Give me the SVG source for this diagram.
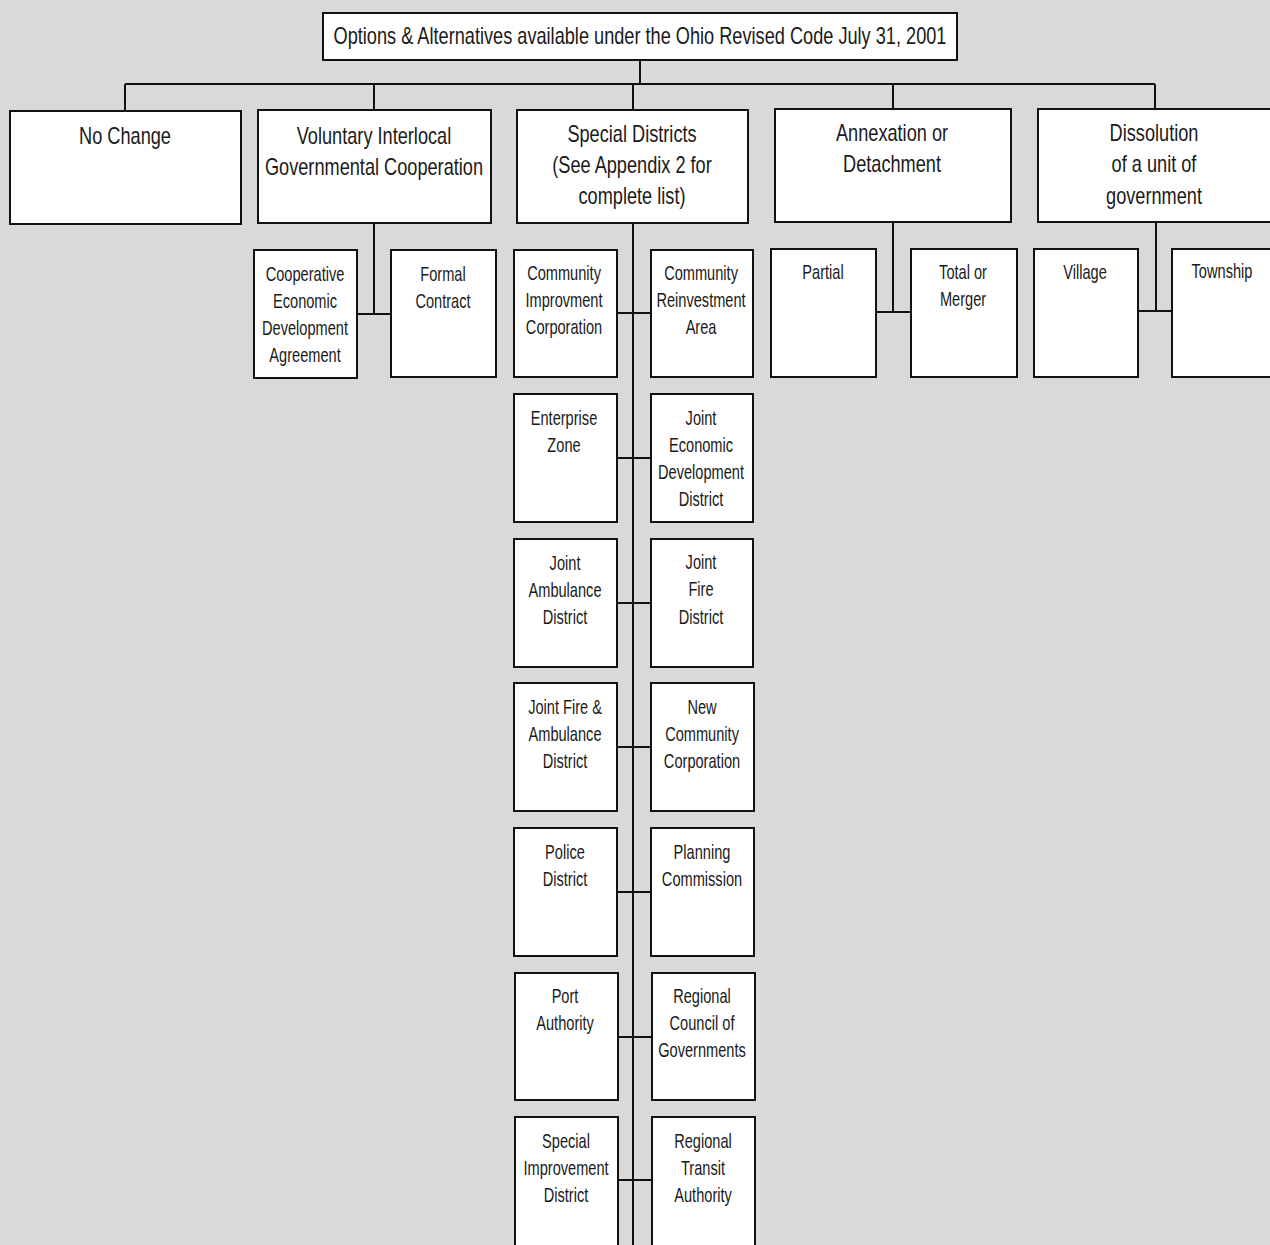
<svg xmlns="http://www.w3.org/2000/svg" width="1270" height="1245" viewBox="0 0 1270 1245">
<style>
.bg{fill:#d9d9d9}
.box{fill:#ffffff;stroke:#111;stroke-width:2}
.ln{stroke:#111;stroke-width:2;fill:none}
text{font-family:"Liberation Sans",Arial,sans-serif;fill:#1a1a1a;text-anchor:middle;transform-box:fill-box;transform-origin:center}
.t1{font-size:23px;transform:scaleX(0.79)}
.t2{font-size:20px;transform:scaleX(0.73)}
</style>
<rect class="bg" x="0" y="0" width="1270" height="1245"/>
<g id="connectors">
<path class="ln" d="M640 60V84M125 84H1155M125 84V111M374 84V110M633 84V110M893 84V109M1155 84V109"/>
<path class="ln" d="M374 223V314M357 314H391"/>
<path class="ln" d="M633 223V1245M617 313H651M617 458H651M617 603H651M617 747H651M617 892H651M617 1037H651M617 1180H652"/>
<path class="ln" d="M893 222V312M876 312H911"/>
<path class="ln" d="M1156 222V311M1138 311H1172"/>
</g>
<g id="root"><rect class="box" x="323" y="13" width="634" height="47"/><text class="t1" x="640" y="44">Options &amp; Alternatives available under the Ohio Revised Code July 31, 2001</text></g>
<g id="no-change"><rect class="box" x="10" y="111" width="231" height="113"/><text class="t1" x="125" y="144">No Change</text></g>
<g id="voluntary"><rect class="box" x="258" y="110" width="233" height="113"/><text class="t1" x="374" y="144">Voluntary Interlocal</text><text class="t1" x="374" y="175">Governmental Cooperation</text></g>
<g id="special"><rect class="box" x="517" y="110" width="231" height="113"/><text class="t1" x="632" y="142">Special Districts</text><text class="t1" x="632" y="173">(See Appendix 2 for</text><text class="t1" x="632" y="204">complete list)</text></g>
<g id="annexation"><rect class="box" x="775" y="109" width="236" height="113"/><text class="t1" x="892" y="141">Annexation or</text><text class="t1" x="892" y="172">Detachment</text></g>
<g id="dissolution"><rect class="box" x="1038" y="109" width="240" height="113"/><text class="t1" x="1154" y="141">Dissolution</text><text class="t1" x="1154" y="172">of a unit of</text><text class="t1" x="1154" y="204">government</text></g>
<g id="cooperative"><rect class="box" x="254" y="250" width="103" height="128"/><text class="t2" x="305" y="281">Cooperative</text><text class="t2" x="305" y="308">Economic</text><text class="t2" x="305" y="335">Development</text><text class="t2" x="305" y="362">Agreement</text></g>
<g id="formal"><rect class="box" x="391" y="250" width="105" height="127"/><text class="t2" x="443" y="281">Formal</text><text class="t2" x="443" y="308">Contract</text></g>
<g id="cic"><rect class="box" x="514" y="250" width="103" height="127"/><text class="t2" x="564" y="280">Community</text><text class="t2" x="564" y="307">Improvment</text><text class="t2" x="564" y="334">Corporation</text></g>
<g id="cra"><rect class="box" x="651" y="250" width="102" height="127"/><text class="t2" x="701" y="280">Community</text><text class="t2" x="701" y="307">Reinvestment</text><text class="t2" x="701" y="334">Area</text></g>
<g id="enterprise"><rect class="box" x="514" y="394" width="103" height="128"/><text class="t2" x="564" y="425">Enterprise</text><text class="t2" x="564" y="452">Zone</text></g>
<g id="jedd"><rect class="box" x="651" y="394" width="102" height="128"/><text class="t2" x="701" y="425">Joint</text><text class="t2" x="701" y="452">Economic</text><text class="t2" x="701" y="479">Development</text><text class="t2" x="701" y="506">District</text></g>
<g id="jad"><rect class="box" x="514" y="539" width="103" height="128"/><text class="t2" x="565" y="570">Joint</text><text class="t2" x="565" y="597">Ambulance</text><text class="t2" x="565" y="624">District</text></g>
<g id="jfd"><rect class="box" x="651" y="539" width="102" height="128"/><text class="t2" x="701" y="569">Joint</text><text class="t2" x="701" y="596">Fire</text><text class="t2" x="701" y="624">District</text></g>
<g id="jfad"><rect class="box" x="514" y="683" width="103" height="128"/><text class="t2" x="565" y="714">Joint Fire &amp;</text><text class="t2" x="565" y="741">Ambulance</text><text class="t2" x="565" y="768">District</text></g>
<g id="ncc"><rect class="box" x="651" y="683" width="103" height="128"/><text class="t2" x="702" y="714">New</text><text class="t2" x="702" y="741">Community</text><text class="t2" x="702" y="768">Corporation</text></g>
<g id="police"><rect class="box" x="514" y="828" width="103" height="128"/><text class="t2" x="565" y="859">Police</text><text class="t2" x="565" y="886">District</text></g>
<g id="planning"><rect class="box" x="651" y="828" width="103" height="128"/><text class="t2" x="702" y="859">Planning</text><text class="t2" x="702" y="886">Commission</text></g>
<g id="port"><rect class="box" x="515" y="973" width="103" height="127"/><text class="t2" x="565" y="1003">Port</text><text class="t2" x="565" y="1030">Authority</text></g>
<g id="rcog"><rect class="box" x="652" y="973" width="103" height="127"/><text class="t2" x="702" y="1003">Regional</text><text class="t2" x="702" y="1030">Council of</text><text class="t2" x="702" y="1057">Governments</text></g>
<g id="sid"><rect class="box" x="515" y="1117" width="103" height="140"/><text class="t2" x="566" y="1148">Special</text><text class="t2" x="566" y="1175">Improvement</text><text class="t2" x="566" y="1202">District</text></g>
<g id="rta"><rect class="box" x="652" y="1117" width="103" height="140"/><text class="t2" x="703" y="1148">Regional</text><text class="t2" x="703" y="1175">Transit</text><text class="t2" x="703" y="1202">Authority</text></g>
<g id="partial"><rect class="box" x="771" y="249" width="105" height="128"/><text class="t2" x="823" y="279">Partial</text></g>
<g id="total"><rect class="box" x="911" y="249" width="106" height="128"/><text class="t2" x="963" y="279">Total or</text><text class="t2" x="963" y="306">Merger</text></g>
<g id="village"><rect class="box" x="1034" y="249" width="104" height="128"/><text class="t2" x="1085" y="279">Village</text></g>
<g id="township"><rect class="box" x="1172" y="249" width="110" height="128"/><text class="t2" x="1222" y="278">Township</text></g>
</svg>
